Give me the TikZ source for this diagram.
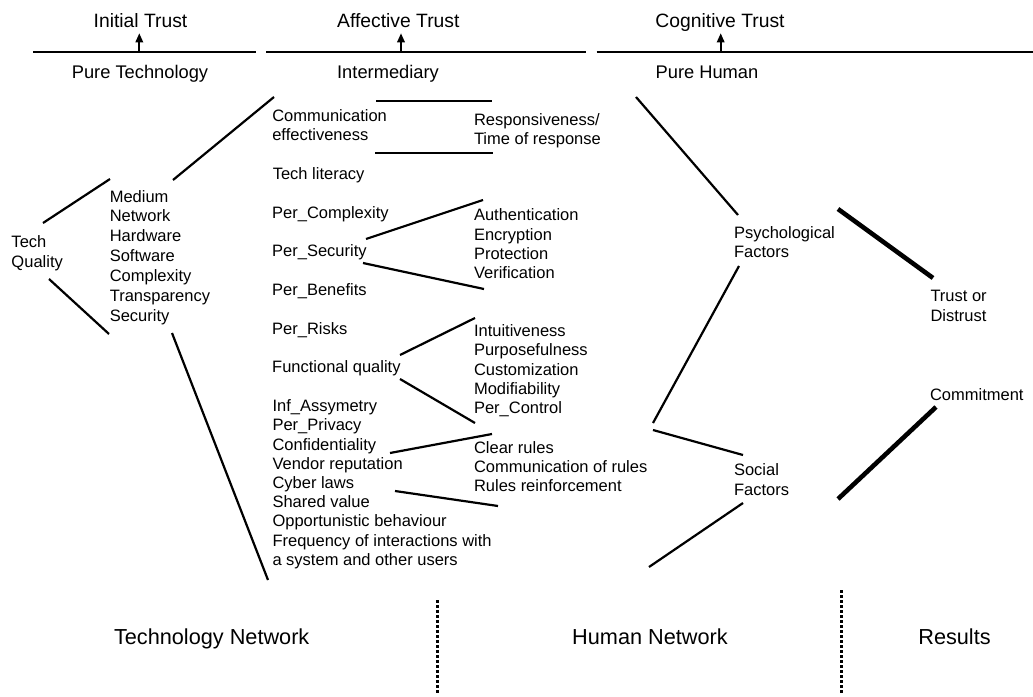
\documentclass[tikz,border=0pt]{standalone}
\usepackage{fontspec}
\setmainfont{Liberation Sans}
\usetikzlibrary{arrows.meta}
\newcommand\bstrut{\rule{0pt}{14pt}}
\begin{document}
\begin{tikzpicture}[x=1pt,y=-1pt,
  lbl/.style={anchor=north west, inner sep=0pt, outer sep=0pt, align=left, yshift=14pt, font=\fontsize{16.5}{#1}\selectfont},
  lbl/.default=19.5,
  toptitle/.style={anchor=base, inner sep=0pt, font=\fontsize{19.3}{22}\selectfont},
  subtitle/.style={anchor=base, inner sep=0pt, font=\fontsize{18.3}{22}\selectfont},
  nettitle/.style={anchor=base, inner sep=0pt, font=\fontsize{21.7}{25}\selectfont},
  rule/.style={line width=2pt},
  up/.style={line width=1.7pt, -{Triangle[length=9pt,width=7.5pt]}},
  link/.style={line width=2.2pt},
  strong/.style={line width=4.6pt},
  sep/.style={line width=2.7pt, dash pattern=on 2.7pt off 2.3pt}]
\useasboundingbox (0,0) rectangle (1033,696);
\fill[white] (0,0) rectangle (1033,696);

% top titles
\node[toptitle] (it) at (140.5,27.3) {Initial Trust};
\node[toptitle] (at) at (398.3,27.3) {Affective Trust};
\node[toptitle] (ct) at (720,27.3) {Cognitive Trust};
\node[subtitle] (pt) at (140,78.3) {Pure Technology};
\node[subtitle] (im) at (388,78.3) {Intermediary};
\node[subtitle] (ph) at (707,78) {Pure Human};

% top rules and arrows
\draw[rule] (33,52.3) -- (255.7,52.3);
\draw[rule] (266,52.3) -- (586,52.3);
\draw[rule] (596.7,52.3) -- (1040,52.3);
\draw[up] (139.3,52.3) -- (139.3,33.3);
\draw[up] (401,52.3) -- (401,33.3);
\draw[up] (720.7,52.3) -- (720.7,33.3);

% left column
\node[lbl=20] (tq) at (11.5,247) {\bstrut Tech\\Quality};
\node[lbl=19.9] (med) at (109.8,202) {\bstrut Medium\\Network\\Hardware\\Software\\Complexity\\Transparency\\Security};

% middle column
\node[lbl=19] (comm) at (272.3,121.7) {\bstrut Communication\\effectiveness};
\node[lbl=19] (resp) at (474,125) {\bstrut Responsiveness/\\Time of response};
\node[lbl] (tl) at (272.8,179.3) {\bstrut Tech literacy};
\node[lbl] (pc) at (272.2,218.3) {\bstrut Per\_Complexity};
\node[lbl] (ps) at (272.2,256.7) {\bstrut Per\_Security};
\node[lbl] (pb) at (272.2,295) {\bstrut Per\_Benefits};
\node[lbl=19.4] (auth) at (474,220.7) {\bstrut Authentication\\Encryption\\Protection\\Verification};
\node[lbl] (pr) at (272.2,334.3) {\bstrut Per\_Risks};
\node[lbl] (fq) at (272.2,372.3) {\bstrut Functional quality};
\node[lbl=19.2] (intu) at (474,336.7) {\bstrut Intuitiveness\\Purposefulness\\Customization\\Modifiability\\Per\_Control};
\node[lbl=19.2] (inf) at (272.5,411.7) {\bstrut Inf\_Assymetry\\Per\_Privacy\\Confidentiality\\Vendor reputation\\Cyber laws\\Shared value\\Opportunistic behaviour\\Frequency of interactions with\\a system and other users};
\node[lbl=19.2] (clr) at (474,453.3) {\bstrut Clear rules\\Communication of rules\\Rules reinforcement};

% right column
\node[lbl=19] (psy) at (734,238) {\bstrut Psychological\\Factors};
\node[lbl=20] (tod) at (930.5,301.7) {\bstrut Trust or\\Distrust};
\node[lbl] (com) at (930,400) {\bstrut Commitment};
\node[lbl=20] (soc) at (734,475) {\bstrut Social\\Factors};

% bottom titles
\node[nettitle] (tn) at (211.7,644) {Technology Network};
\node[nettitle] (hn) at (650,644.5) {Human Network};
\node[nettitle] (rs) at (954.5,644.5) {Results};

% body strokes
\draw[link] (43,223) -- (110,179);
\draw[link] (49,279) -- (109,334);
\draw[link] (173,180) -- (274,97);
\draw[link] (172,333) -- (268,580);
\draw[link] (376,101) -- (492,101);
\draw[link] (375,153) -- (493,153);
\draw[link] (366,239) -- (483,200);
\draw[link] (363,263) -- (484,289);
\draw[link] (400,355) -- (475,318);
\draw[link] (400,379) -- (475,423);
\draw[link] (390,453) -- (492,434);
\draw[link] (395,491) -- (498,506);
\draw[link] (636,97) -- (738,215);
\draw[link] (739,266) -- (653,423);
\draw[link] (653,430) -- (743,455);
\draw[link] (743,503) -- (649,567);
\draw[strong] (838,209) -- (933,278);
\draw[strong] (838,499) -- (936,407);

% dotted separators
\draw[sep] (437.7,600) -- (437.7,693);
\draw[sep] (841.7,590) -- (841.7,693);
\end{tikzpicture}
\end{document}
